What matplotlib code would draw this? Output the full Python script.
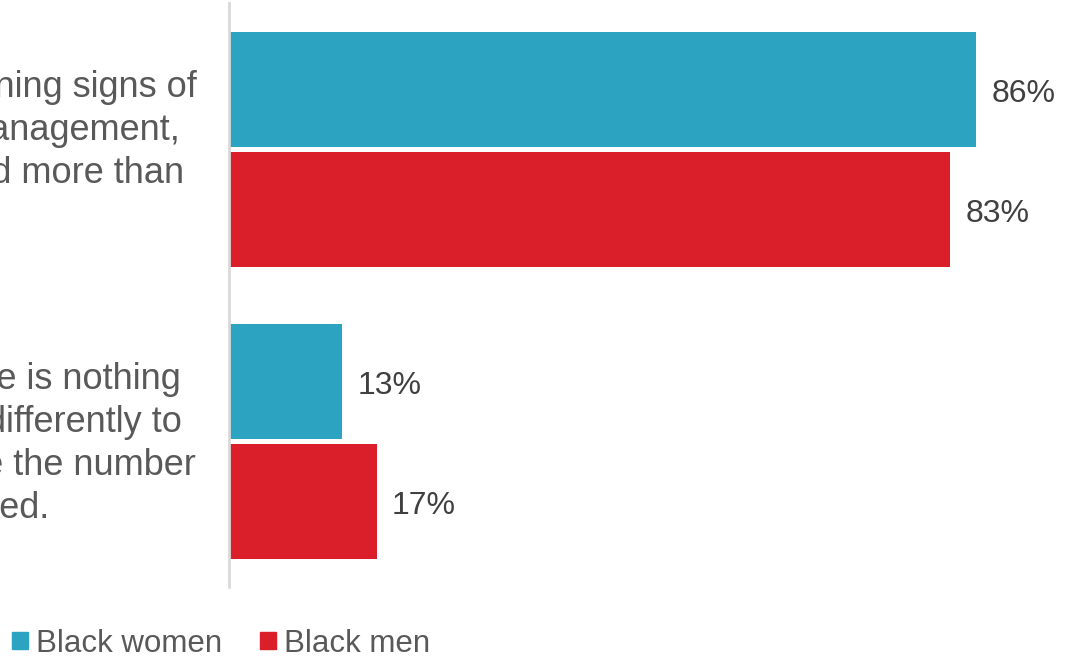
import matplotlib.pyplot as plt
import matplotlib.transforms as mtransforms
from matplotlib.patches import Patch

plt.rcParams['font.family'] = ['Liberation Sans', 'DejaVu Sans']

# data
groups = ['Black women', 'Black men']
women = [86, 13]
men = [83, 17]
label_lines = [
    ['Employers are ignoring the warning signs of',
     'racism from senior management,',
     'colleagues and more than',
     'ever before.'],
    ['Black employees believe there is nothing',
     'they could have done differently to',
     'increase the number',
     'of times they were promoted.'],
]
# right end of each label line in pixels (the labels run off the left edge)
line_ends = [[197, 180, 184, -20], [181, 182, 196, 49]]

teal = '#2CA3C0'
red = '#DA1F2B'
grey = '#595959'
dark = '#404040'

fig = plt.figure(figsize=(10.74, 6.56), dpi=100)
ax = fig.add_axes([229 / 1074, 69 / 656, 843 / 1074, 584 / 656])

ys = list(range(len(women)))
off = 60 / 292
h = 115 / 292
ax.barh([y - off for y in ys], women, height=h, color=teal)
ax.barh([y + off for y in ys], men, height=h, color=red)

ax.set_xlim(0, 97)
ax.set_ylim(1.5, -0.5)

for y, w, m in zip(ys, women, men):
    ax.annotate(f'{w}%', (w, y - off), xytext=(11, -9), textcoords='offset points',
                va='baseline', ha='left', fontsize=23, color=dark)
    ax.annotate(f'{m}%', (m, y + off), xytext=(11, -9), textcoords='offset points',
                va='baseline', ha='left', fontsize=23, color=dark)

# category labels, one text per line
trans = mtransforms.blended_transform_factory(fig.transFigure, ax.transData)
for y, lines, ends in zip(ys, label_lines, line_ends):
    for i, (line, xe) in enumerate(zip(lines, ends)):
        yy = y + (12.5 + (i - 1.5) * 42.7) / 292
        ax.text(xe / 1074, yy, line, transform=trans, ha='right', va='baseline',
                fontsize=26, color=grey, clip_on=False)

for s in ['top', 'right', 'bottom']:
    ax.spines[s].set_visible(False)
ax.spines['left'].set_color('#D9D9D9')
ax.spines['left'].set_linewidth(2)
ax.set_xticks([])
ax.set_yticks([])

handles = [Patch(color=teal), Patch(color=red)]
fig.legend(handles, groups, loc='lower left', bbox_to_anchor=(12 / 1074, -0.004), ncol=2,
           frameon=False, fontsize=22.5, labelcolor=grey, handlelength=0.5,
           handleheight=0.5, handletextpad=0.28, columnspacing=1.2,
           borderaxespad=0, borderpad=0)

fig.savefig('out.png', dpi=100)
